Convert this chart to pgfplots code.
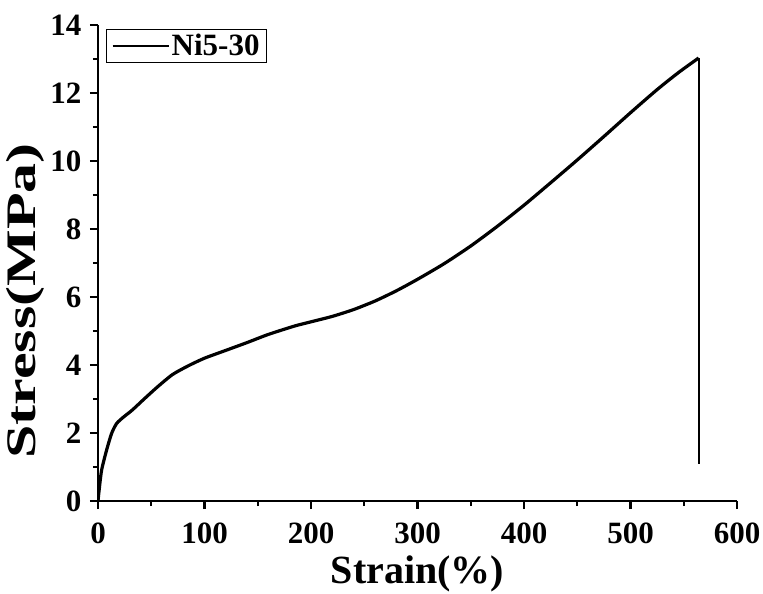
\documentclass[border=0pt]{standalone}
\usepackage{fontspec}
\setmainfont{Liberation Serif}
\usepackage{pgfplots}
\pgfplotsset{compat=1.18}
\begin{document}
\begin{tikzpicture}
\begin{axis}[
  scale only axis,
  width=639pt, height=476pt,
  xmin=0, xmax=600, ymin=0, ymax=14,
  enlargelimits=false,
  axis x line*=bottom, axis y line*=left,
  axis line style={-, line width=2.4pt},
  xtick={0,100,...,600}, ytick={0,2,...,14},
  minor x tick num=1, minor y tick num=1,
  tick align=outside,
  major tick length=8pt, minor tick length=5pt,
  every tick/.style={black, line width=2.2pt},
  /pgf/number format/assume math mode=true,
  ticklabel style={font=\fontsize{31}{31}\selectfont\bfseries},
  xticklabel style={yshift=-10pt},
  yticklabel style={xshift=-5pt},
  xlabel={Strain(\%)},
  ylabel={\scalebox{1.5}[1.05]{Stress(MPa)}},
  xlabel style={at={(axis description cs:0.5,0)}, anchor=north, yshift=-55pt, inner sep=0pt, font=\fontsize{40}{40}\selectfont\bfseries},
  ylabel style={at={([xshift=-53pt]axis description cs:0,0.42)}, anchor=south, inner sep=0pt, font=\fontsize{40}{40}\selectfont\bfseries},
  legend style={at={(axis description cs:0.0125,0.992)}, anchor=north west, draw=black, line width=1pt,
    font=\fontsize{31}{31}\selectfont\bfseries, inner xsep=5pt, inner ysep=3pt},
  legend cell align=left,
  legend image code/.code={\draw[line width=2.2pt] (6pt,0pt) -- (62pt,0pt);},
]
\addplot[black, line width=3.2pt, smooth, tension=0.4] coordinates {
(0,0) (1,0.3) (3.4,0.91) (8.1,1.5) (12.8,1.99) (17.5,2.28) (24,2.47) (32,2.67)
(44,3.02) (56,3.36) (70,3.72) (85,3.98) (100,4.2) (120,4.43) (140,4.66) (160,4.9) (185,5.15) (200,5.27) (220,5.43)
(240,5.63) (260,5.88) (280,6.18) (300,6.52) (325,6.98) (350,7.5) (375,8.08) (400,8.7)
(425,9.36) (450,10.03) (475,10.72) (500,11.42) (525,12.1) (545,12.6) (564,13.03)
};
\addlegendentry{Ni5-30}
\addplot[black, line width=2.2pt, forget plot] coordinates {(564,13.03) (564,1.1)};
\end{axis}
\pgfresetboundingbox
\path ([shift={(-98pt,-92pt)}]current axis.south west) rectangle ([shift={(26pt,25pt)}]current axis.north east);
\end{tikzpicture}
\end{document}
